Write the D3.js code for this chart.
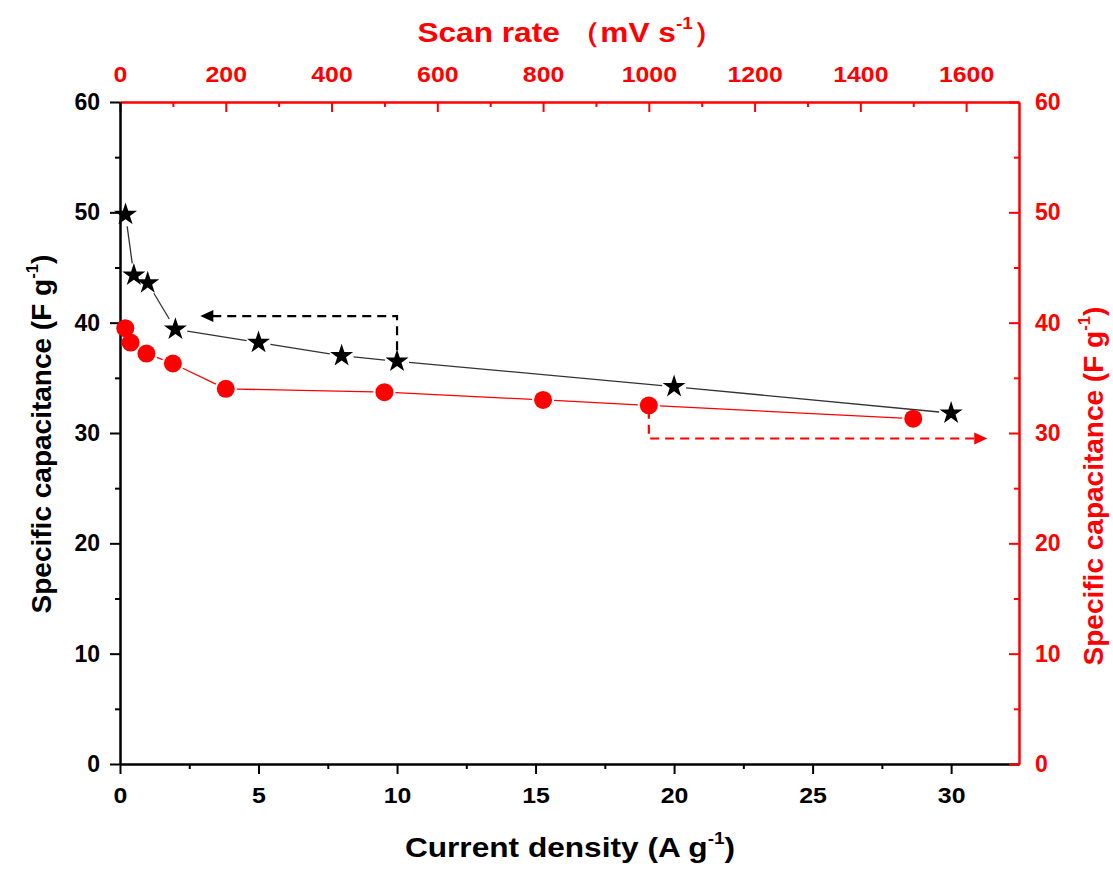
<!DOCTYPE html>
<html>
<head>
<meta charset="utf-8">
<script src="https://cdn.jsdelivr.net/npm/d3@7"></script>
<style>
  body { margin: 0; background: #fff; }
  text { font-family: Arial, "Liberation Sans", sans-serif; font-weight: bold; }
</style>
</head>
<body>
<svg id="chart" width="1113" height="870"></svg>
<script>
// galvanostatic data (bottom axis / left axis)
const currentDensity = [0.2, 0.5, 1, 2, 5, 8, 10, 20, 30];
const capCurrent = [49.8, 44.3, 43.6, 39.4, 38.2, 37.0, 36.5, 34.2, 31.8];

// CV data (top axis / right axis)
const scanRate = [10, 20, 50, 100, 200, 500, 800, 1000, 1500];
const capScan = [39.5, 38.2, 37.2, 36.3, 34.0, 33.7, 33.0, 32.5, 31.3];

// tick labels
const xTicks = [0, 5, 10, 15, 20, 25, 30];
const topTicks = [0, 200, 400, 600, 800, 1000, 1200, 1400, 1600];
const yTicks = [0, 10, 20, 30, 40, 50, 60];

// guide arrows, in data units of their own axes
const blackArrow = [[10, 37.5], [10, 40.6], [2.9, 40.6]];
const redArrow = [[1000, 32.1], [1000, 29.5], [1640, 29.5]];

const RED = "#ff0000";
const svg = d3.select("#chart");
const L = 120, R = 1019, T = 102, B = 764;
const SX = 1.13; // horizontal labels look a bit stretched

const x = d3.scaleLinear().domain([0, 32.45]).range([L, R]);
const xTop = d3.scaleLinear().domain([0, 1700]).range([L, R]);
const y = d3.scaleLinear().domain([0, 60]).range([B, T]);

function styleAxis(g, color, lw) {
    g.select(".domain").attr("stroke", color).attr("stroke-width", lw);
    g.selectAll(".tick line").attr("stroke", color).attr("stroke-width", 2);
    g.selectAll(".tick text").attr("fill", color);
}

// bottom axis
svg.append("g").attr("transform", `translate(0,${B})`)
    .call(d3.axisBottom(x).tickValues(d3.range(2.5, 30, 5)).tickSize(5).tickFormat("").tickSizeOuter(0))
    .call(g => styleAxis(g, "#000", 2));
svg.append("g").attr("transform", `translate(0,${B})`)
    .call(d3.axisBottom(x).tickValues(xTicks).tickSize(10).tickPadding(13).tickSizeOuter(0))
    .call(g => styleAxis(g, "#000", 2))
    .call(g => g.selectAll(".tick text").attr("font-size", 22).attr("transform", `scale(${SX},1)`));

// top axis (ticks inward)
svg.append("g").attr("transform", `translate(0,${T})`)
    .call(d3.axisTop(xTop).tickValues(d3.range(100, 1600, 200)).tickSize(-5).tickFormat("").tickSizeOuter(0))
    .call(g => styleAxis(g, RED, 2));
svg.append("g").attr("transform", `translate(0,${T})`)
    .call(d3.axisTop(xTop).tickValues(topTicks).tickSize(-10).tickPadding(0).tickSizeOuter(0).tickFormat(d3.format("d")))
    .call(g => styleAxis(g, RED, 2))
    .call(g => g.selectAll(".tick text").attr("font-size", 22).attr("y", -20)
        .attr("transform", `scale(${SX},1)`));

// left axis
svg.append("g").attr("transform", `translate(${L},0)`)
    .call(d3.axisLeft(y).tickValues(d3.range(5, 60, 10)).tickSize(5).tickFormat("").tickSizeOuter(0))
    .call(g => styleAxis(g, "#000", 2));
svg.append("g").attr("transform", `translate(${L},0)`)
    .call(d3.axisLeft(y).tickValues(yTicks).tickSize(10).tickPadding(10).tickSizeOuter(0))
    .call(g => styleAxis(g, "#000", 2))
    .call(g => g.selectAll(".tick text").attr("font-size", 23));

// right axis (ticks inward)
svg.append("g").attr("transform", `translate(${R},0)`)
    .call(d3.axisRight(y).tickValues(d3.range(5, 60, 10)).tickSize(-5).tickFormat("").tickSizeOuter(0))
    .call(g => styleAxis(g, RED, 2));
svg.append("g").attr("transform", `translate(${R},0)`)
    .call(d3.axisRight(y).tickValues(yTicks).tickSize(-10).tickPadding(0).tickSizeOuter(0))
    .call(g => styleAxis(g, RED, 2))
    .call(g => g.selectAll(".tick text").attr("font-size", 23).attr("x", 16));

// lines with small gaps at the markers
function gapLine(pts, gap, color) {
    for (let i = 0; i < pts.length - 1; i++) {
        const [x1, y1] = pts[i], [x2, y2] = pts[i + 1];
        const dx = x2 - x1, dy = y2 - y1, len = Math.hypot(dx, dy);
        if (len <= 2 * gap) continue;
        const ux = dx / len, uy = dy / len;
        svg.append("line")
            .attr("x1", x1 + ux * gap).attr("y1", y1 + uy * gap)
            .attr("x2", x2 - ux * gap).attr("y2", y2 - uy * gap)
            .attr("stroke", color).attr("stroke-width", 1.3);
    }
}
const starPts = currentDensity.map((d, i) => [x(d), y(capCurrent[i])]);
const circPts = scanRate.map((d, i) => [xTop(d), y(capScan[i])]);
gapLine(starPts, 12, "#333");
gapLine(circPts, 11, RED);

svg.append("g").selectAll("path").data(starPts).join("path")
    .attr("transform", d => `translate(${d[0]},${d[1]})`)
    .attr("d", d3.symbol(d3.symbolStar).size(165))
    .attr("fill", "#000");
svg.append("g").selectAll("circle").data(circPts).join("circle")
    .attr("cx", d => d[0]).attr("cy", d => d[1]).attr("r", 9)
    .attr("fill", RED);

// dashed guide arrows
function arrow(pts, color) {
    const n = pts.length;
    const [ex, ey] = pts[n - 1];
    const dir = Math.sign(ex - pts[n - 2][0]);
    const body = pts.slice(0, -1).concat([[ex - dir * 10, ey]]);
    svg.append("path").attr("d", d3.line()(body))
        .attr("fill", "none").attr("stroke", color).attr("stroke-width", 2.2)
        .attr("stroke-dasharray", "9,6");
    svg.append("path")
        .attr("d", `M${ex},${ey} L${ex - dir * 13},${ey - 6} L${ex - dir * 13},${ey + 6} Z`)
        .attr("fill", color);
}
arrow(blackArrow.map(p => [x(p[0]), y(p[1])]), "#000");
arrow(redArrow.map(p => [xTop(p[0]), y(p[1])]), RED);

// axis titles
function title(tx, ty, tf, color, main, close, size) {
    const t = svg.append("text")
        .attr("transform", `translate(${tx},${ty}) ${tf}`)
        .attr("text-anchor", "middle").attr("fill", color).attr("font-size", size);
    t.append("tspan").text(main);
    t.append("tspan").attr("font-size", size * 0.6).attr("dy", -size * 0.45).text("-1");
    t.append("tspan").attr("dy", size * 0.45).text(close);
    return t;
}
title(570, 857, `scale(${SX},1)`, "#000", "Current density (A g", ")", 28);
title(571, 42, `scale(${SX},1)`, RED, "Scan rate \uff08mV s", "\uff09", 28);
title(51, 434, "rotate(-90)", "#000", "Specific capacitance (F g", ")", 28);
title(1103, 486, "rotate(-90)", RED, "Specific capacitance (F g", ")", 28);
</script>
</body>
</html>
